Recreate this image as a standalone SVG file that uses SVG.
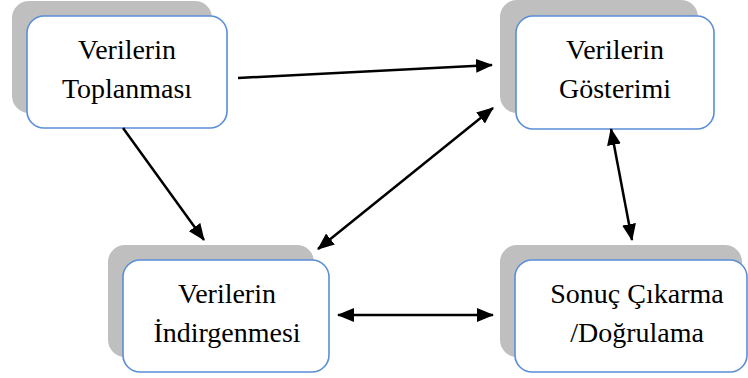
<svg xmlns="http://www.w3.org/2000/svg" width="748" height="378" viewBox="0 0 748 378">
<style>
.sh{fill:#BFBFBF;}
.bx{fill:#FFFFFF;stroke:#5B8ED6;stroke-width:1.6;}
.t{font-family:"Liberation Serif","Times New Roman",serif;font-size:28px;fill:#000;text-anchor:middle;}
.c{fill:none;stroke:#000;stroke-width:2.5;}
</style>
<defs>
<marker id="ah" markerUnits="userSpaceOnUse" markerWidth="17" markerHeight="14" refX="16" refY="7" orient="auto-start-reverse" viewBox="0 0 17 14">
<path d="M0,0 L17,7 L0,14 z" fill="#000"/>
</marker>
</defs>
<rect width="748" height="378" fill="#FFFFFF"/>
<g id="n1">
<rect class="sh" x="12" y="1" width="200" height="112" rx="17"/>
<rect class="bx" x="27" y="16" width="200" height="112" rx="17"/>
<text class="t" x="127" y="59">Verilerin</text>
<text class="t" x="127" y="98">Toplanması</text>
</g>
<g id="n2">
<rect class="sh" x="500" y="0" width="198" height="113" rx="17"/>
<rect class="bx" x="516" y="16" width="198" height="113" rx="17"/>
<text class="t" x="615" y="59">Verilerin</text>
<text class="t" x="615" y="98">Gösterimi</text>
</g>
<g id="n3">
<rect class="sh" x="108" y="245" width="206" height="112" rx="17"/>
<rect class="bx" x="123" y="260" width="206" height="112" rx="17"/>
<text class="t" x="227" y="303">Verilerin</text>
<text class="t" x="227" y="342">İndirgenmesi</text>
</g>
<g id="n4">
<rect class="sh" x="500" y="245" width="242" height="112" rx="17"/>
<rect class="bx" x="515" y="260" width="232" height="112" rx="17"/>
<text class="t" x="637" y="303">Sonuç Çıkarma</text>
<text class="t" x="637" y="342">/Doğrulama</text>
</g>
<g id="connectors">
<line class="c" x1="238" y1="78" x2="492" y2="65" marker-end="url(#ah)"/>
<line class="c" x1="123" y1="128" x2="204" y2="240" marker-end="url(#ah)"/>
<line class="c" x1="318" y1="249" x2="493" y2="108" marker-start="url(#ah)" marker-end="url(#ah)"/>
<line class="c" x1="611" y1="129" x2="632" y2="240" marker-start="url(#ah)" marker-end="url(#ah)"/>
<line class="c" x1="338" y1="315" x2="493" y2="315" marker-start="url(#ah)" marker-end="url(#ah)"/>
</g>
</svg>
